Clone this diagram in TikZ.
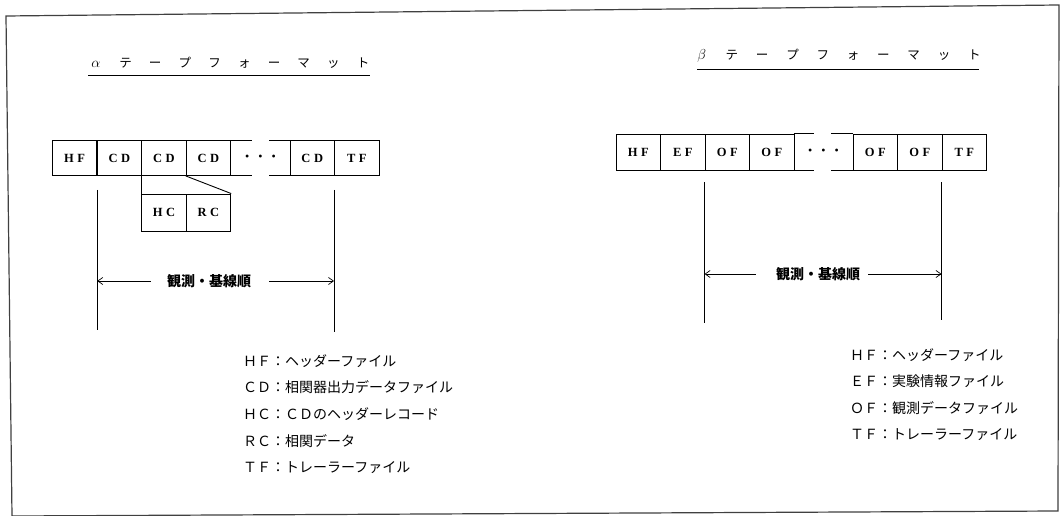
\documentclass[tikz,border=0pt]{standalone}
\usepackage{fontspec}
\setmainfont{Liberation Serif}
\newfontfamily\jp{Noto Sans CJK JP}
\usetikzlibrary{arrows.meta,calc}
\newcommand{\tch}[1]{\makebox[29.7pt]{#1}}
\newcommand{\tchb}[1]{\makebox[30.3pt]{#1}}
\newcommand{\two}[2]{#1\hspace{3.5pt}#2}
\newcommand{\tdots}{\textbullet\hspace{9pt}\textbullet\hspace{9pt}\textbullet}
\newcommand{\grk}[1]{{\fontsize{15}{15}\selectfont$#1$}}
\begin{document}
\begin{tikzpicture}[x=1pt,y=-1pt,
  cell/.style={draw,line width=0.9pt,minimum width=44.5pt,minimum height=35pt,inner sep=0pt,font=\bfseries\fontsize{12.5}{12.5}\selectfont},
  bcell/.style={cell,minimum height=36pt},
  gapcell/.style={minimum width=59pt,minimum height=35pt,inner sep=0pt,font=\fontsize{12}{12}\selectfont},
  bgapcell/.style={gapcell,minimum height=36pt},
  edge/.style={line width=0.9pt},
  vline/.style={line width=1pt},
  arr/.style={line width=0.7pt,-{Straight Barb[length=5pt,width=7pt]}},
  lbl/.style={font=\jp\bfseries\fontsize{14}{14}\selectfont,inner sep=0pt},
  leg/.style={font=\jp\fontsize{14}{14}\selectfont,anchor=west,inner sep=0pt},
  ttl/.style={font=\jp\fontsize{12.5}{12.5}\selectfont,inner sep=0pt},
  frame/.style={line width=1.2pt,draw=black!75}]
\useasboundingbox (0,0) rectangle (1061,516);
\fill[white] (0,0) rectangle (1061,516);
% frame
\draw[frame] (6,16) -- (1059,5) -- (1058,511) -- (12,516) -- cycle;

% ---------------- alpha ----------------
\node[ttl] (atitle) at (229.5,62.5) {\tch{\grk{\alpha}}\tch{テ}\tch{ー}\tch{プ}\tch{フ}\tch{ォ}\tch{ー}\tch{マ}\tch{ッ}\tch{ト}};
\draw[line width=0.8pt] ($(atitle.center)+(-141.5,12.5)$) -- ($(atitle.center)+(140.5,12.5)$);

\node[cell] (ahf)  at (74.5,158)   {\two HF};
\node[cell] (acd1) at (119.5,158)  {\two CD};
\node[cell] (acd2) at (164,158)    {\two CD};
\node[cell] (acd3) at (208.5,158)  {\two CD};
\node[gapcell] (adots) at (260.5,158) {\tdots};
\node[cell] (acd4) at (312.25,158) {\two CD};
\node[cell] (atf)  at (356.75,158) {\two TF};
\draw[edge] (adots.north west) -- ++(21,0);
\draw[edge] (adots.south west) -- ++(21,0);
\draw[edge] (adots.north east) -- ++(-21,0);
\draw[edge] (adots.south east) -- ++(-21,0);

\node[cell,minimum height=37pt] (ahc) at (164,212.5)   {\two HC};
\node[cell,minimum height=37pt] (arc) at (208.5,212.5) {\two RC};
\draw[edge] (acd2.south west) -- (ahc.north west);
\draw[edge] (acd3.south west) -- (arc.north east);

\coordinate (a1t) at ($(ahf.south east)+(0,14)$);
\coordinate (a1b) at ($(ahf.south east)+(0,154)$);
\coordinate (a2t) at ($(atf.south west)+(0,14)$);
\coordinate (a2b) at ($(atf.south west)+(0,156)$);
\draw[vline] (a1t) -- (a1b);
\draw[vline] (a2t) -- (a2b);

\node[lbl] (alab) at (209,281) {観測・基線順};
\draw[arr] ([xshift=-16pt]alab.west) -- (alab.west -| a1t);
\draw[arr] ([xshift=18pt]alab.east) -- (alab.east -| a2t);

\node[leg] (al1) at (243,361) {ＨＦ：ヘッダーファイル};
\node[leg] (al2) at (243,387) {ＣＤ：相関器出力データファイル};
\node[leg] (al3) at (243,414) {ＨＣ：ＣＤのヘッダーレコード};
\node[leg] (al4) at (243,441) {ＲＣ：相関データ};
\node[leg] (al5) at (243,468) {ＴＦ：トレーラーファイル};

% ---------------- beta ----------------
\node[ttl] (btitle) at (838,56) {\tchb{\grk{\beta}}\tchb{テ}\tchb{ー}\tchb{プ}\tchb{フ}\tchb{ォ}\tchb{ー}\tchb{マ}\tchb{ッ}\tchb{ト}};
\draw[line width=0.8pt] ($(btitle.center)+(-141,13)$) -- ($(btitle.center)+(141,13)$);

\node[bcell] (bhf)  at (638.25,152) {\two HF};
\node[bcell] (bef)  at (682.75,152) {\two EF};
\node[bcell] (bof1) at (727.25,152) {\two OF};
\node[bcell] (bof2) at (771.75,152) {\two OF};
\node[bgapcell] (bdots) at (823.5,152) {\tdots};
\node[bcell] (bof3) at (875.25,152) {\two OF};
\node[bcell] (bof4) at (919.75,152) {\two OF};
\node[bcell] (btf)  at (964.25,152) {\two TF};
\draw[edge] (bdots.north west) -- ++(20,0);
\draw[edge] (bdots.south west) -- ++(20,0);
\draw[edge] (bdots.north east) -- ++(-22,0);
\draw[edge] (bdots.south east) -- ++(-22,0);

\coordinate (b1t) at ($(bof1.south west)+(0,12)$);
\coordinate (b1b) at ($(bof1.south west)+(0,153)$);
\coordinate (b2t) at ($(btf.south west)+(0,12)$);
\coordinate (b2b) at ($(btf.south west)+(0,150)$);
\draw[vline] (b1t) -- (b1b);
\draw[vline] (b2t) -- (b2b);

\node[lbl] (blab) at (818,274) {観測・基線順};
\draw[arr] ([xshift=-20pt]blab.west) -- (blab.west -| b1t);
\draw[arr] ([xshift=8pt]blab.east) -- (blab.east -| b2t);

\node[leg] (bl1) at (850,355) {ＨＦ：ヘッダーファイル};
\node[leg] (bl2) at (850,381) {ＥＦ：実験情報ファイル};
\node[leg] (bl3) at (850,408) {ＯＦ：観測データファイル};
\node[leg] (bl4) at (850,435) {ＴＦ：トレーラーファイル};
\end{tikzpicture}
\end{document}
